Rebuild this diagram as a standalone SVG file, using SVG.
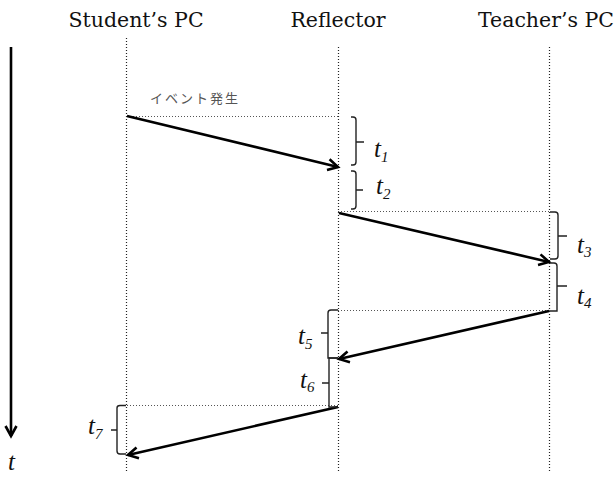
<svg xmlns="http://www.w3.org/2000/svg" width="616" height="477" viewBox="0 0 616 477">
<style>
.hdr{font-family:"DejaVu Serif","Liberation Serif",serif;font-size:20.5px;fill:#111}
.life{stroke:#222;stroke-width:1.2;stroke-dasharray:1 2;fill:none}
.hdot{stroke:#555;stroke-width:1;stroke-dasharray:1 2;fill:none}
.msg{stroke:#000;stroke-width:2.6;fill:none}
.br{stroke:#222;stroke-width:1.4;fill:none}
.lbl{font-family:"Liberation Serif","DejaVu Serif",serif;font-style:italic;font-size:25px;fill:#111}
.sub{font-size:15px}
.jp{font-family:"Noto Sans CJK JP","Noto Sans",sans-serif;font-size:13px;letter-spacing:2px;fill:#555}
</style>
<defs>
<marker id="ah" markerUnits="userSpaceOnUse" markerWidth="16" markerHeight="16" refX="13" refY="8" orient="auto">
<polyline points="3,2.5 13,8 3,13.5" fill="none" stroke="#000" stroke-width="2.6"/>
</marker>
</defs>
<rect width="616" height="477" fill="#fff"/>
<g id="header-student"><text class="hdr" x="136" y="27" text-anchor="middle">Student’s PC</text></g>
<g id="header-reflector"><text class="hdr" x="338" y="27" text-anchor="middle">Reflector</text></g>
<g id="header-teacher"><text class="hdr" x="546" y="27" text-anchor="middle">Teacher’s PC</text></g>
<g id="lifelines">
<line class="life" x1="126.5" y1="38" x2="126.5" y2="472"/>
<line class="life" x1="338.5" y1="47" x2="338.5" y2="472"/>
<line class="life" x1="549.5" y1="47" x2="549.5" y2="472"/>
</g>
<g id="time-axis">
<line x1="11" y1="47" x2="11" y2="436" stroke="#000" stroke-width="2.6" marker-end="url(#ah)"/>
<text class="lbl" x="8" y="470">t</text>
</g>
<g id="event-label"><text class="jp" x="150" y="103">イベント発生</text></g>
<g id="guides">
<line class="hdot" x1="127" y1="116.5" x2="338" y2="116.5"/>
<line class="hdot" x1="338" y1="211.5" x2="550" y2="211.5"/>
<line class="hdot" x1="338" y1="310.5" x2="550" y2="310.5"/>
<line class="hdot" x1="127" y1="405.5" x2="338" y2="405.5"/>
</g>
<g id="connectors">
<line class="msg" x1="127" y1="116" x2="338" y2="167" marker-end="url(#ah)"/>
<line class="msg" x1="339" y1="213" x2="549" y2="262" marker-end="url(#ah)"/>
<line class="msg" x1="549" y1="311" x2="339" y2="359" marker-end="url(#ah)"/>
<line class="msg" x1="338" y1="407" x2="128" y2="455" marker-end="url(#ah)"/>
</g>
<g id="t1">
<path class="br" d="M351,117 H353 Q356,117 356,120 V142 H364 M356,142 V162 Q356,165 353,165 H351"/>
<text class="lbl" x="374" y="157">t<tspan class="sub" dy="5">1</tspan></text>
</g>
<g id="t2">
<path class="br" d="M351,171 H353 Q356,171 356,174 V190 H363 M356,190 V206 Q356,209 353,209 H351"/>
<text class="lbl" x="376" y="194">t<tspan class="sub" dy="5">2</tspan></text>
</g>
<g id="t3">
<path class="br" d="M550,212 H555 Q558,212 558,215 V236 H567 M558,236 V256 Q558,259 555,259 H550"/>
<text class="lbl" x="577" y="253">t<tspan class="sub" dy="4">3</tspan></text>
</g>
<g id="t4">
<path class="br" d="M550,263 H554 Q557,263 557,266 V286 H567 M557,286 V311 H549"/>
<text class="lbl" x="577" y="304">t<tspan class="sub" dy="4">4</tspan></text>
</g>
<g id="t5">
<path class="br" d="M338,310 H331 Q328,310 328,313 V333 H321 M328,333 V358 H338"/>
<text class="lbl" x="298" y="344">t<tspan class="sub" dy="5">5</tspan></text>
</g>
<g id="t6">
<path class="br" d="M338,358 H329 V383 H322 M329,383 V407 H338"/>
<text class="lbl" x="300" y="388">t<tspan class="sub" dy="4">6</tspan></text>
</g>
<g id="t7">
<path class="br" d="M126,405.5 H120 Q117,405.5 117,408 V430 H111 M117,430 V451 Q117,454 120,454 H126"/>
<text class="lbl" x="88" y="434">t<tspan class="sub" dy="5">7</tspan></text>
</g>
</svg>
